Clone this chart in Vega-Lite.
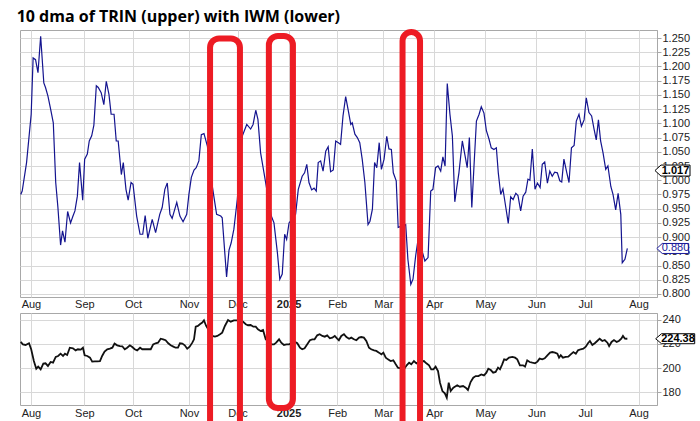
{
  "$schema": "https://vega.github.io/schema/vega-lite/v6.json",
  "padding": {"left": 16, "top": 9, "right": 0, "bottom": 0},
  "background": "white",
  "title": {"text": "10 dma of TRIN (upper) with IWM (lower)", "anchor": "start", "font": "Open Sans", "fontSize": 16, "fontWeight": "bold", "color": "#000", "offset": 3},
  "bounds": "flush",
  "spacing": 16,
  "config": {
    "view": {"stroke": "#a8a8a8"},
    "axis": {"labelFont": "Liberation Sans", "labelFontSize": 11, "labelColor": "#222", "gridColor": "#d8d8d8", "gridWidth": 1, "domain": false, "tickColor": "#a8a8a8", "title": null}
  },
  "datasets": {
    "trin": [
      {"d":-4.2,"v":0.975},{"d":-3.6,"v":0.981},{"d":-1.8,"v":1.031},{"d":0.1,"v":1.116},{"d":0.9,"v":1.215},{"d":1.9,"v":1.212},{"d":2.9,"v":1.189},{"d":4.0,"v":1.253},{"d":5.3,"v":1.171},{"d":6.0,"v":1.163},{"d":7.0,"v":1.148},{"d":8.1,"v":1.125},{"d":9.2,"v":1.101},{"d":10.2,"v":0.996},{"d":11.1,"v":0.952},{"d":12.2,"v":0.886},{"d":13.0,"v":0.911},{"d":14.0,"v":0.891},{"d":15.1,"v":0.945},{"d":16.3,"v":0.925},{"d":17.3,"v":0.937},{"d":18.1,"v":0.946},{"d":19.1,"v":0.972},{"d":20.0,"v":1.031},{"d":21.3,"v":0.965},{"d":22.1,"v":1.037},{"d":23.2,"v":1.046},{"d":24.0,"v":1.069},{"d":25.0,"v":1.078},{"d":25.9,"v":1.097},{"d":26.9,"v":1.166},{"d":27.7,"v":1.163},{"d":28.9,"v":1.154},{"d":30.0,"v":1.133},{"d":31.0,"v":1.174},{"d":32.1,"v":1.151},{"d":33.0,"v":1.116},{"d":34.2,"v":1.116},{"d":35.1,"v":1.069},{"d":35.9,"v":1.069},{"d":37.2,"v":1.010},{"d":38.0,"v":1.031},{"d":39.1,"v":0.984},{"d":40.0,"v":0.965},{"d":41.2,"v":0.996},{"d":42.0,"v":0.993},{"d":43.5,"v":0.937},{"d":44.9,"v":0.905},{"d":46.0,"v":0.905},{"d":47.0,"v":0.938},{"d":48.1,"v":0.898},{"d":49.9,"v":0.931},{"d":51.3,"v":0.908},{"d":53.0,"v":0.940},{"d":54.0,"v":0.952},{"d":55.1,"v":0.984},{"d":56.1,"v":0.995},{"d":57.2,"v":0.940},{"d":58.1,"v":0.933},{"d":60.0,"v":0.961},{"d":61.3,"v":0.937},{"d":62.6,"v":0.927},{"d":64.1,"v":0.940},{"d":65.0,"v":0.975},{"d":66.0,"v":1.005},{"d":67.1,"v":1.018},{"d":68.0,"v":1.022},{"d":69.1,"v":1.034},{"d":70.1,"v":1.080},{"d":71.2,"v":1.082},{"d":72.6,"v":1.060},{"d":74.6,"v":0.990},{"d":76.4,"v":0.940},{"d":78.1,"v":0.937},{"d":78.7,"v":0.934},{"d":80.5,"v":0.830},{"d":81.5,"v":0.877},{"d":82.4,"v":0.890},{"d":83.5,"v":0.914},{"d":84.9,"v":0.966},{"d":87.0,"v":1.078},{"d":88.8,"v":1.098},{"d":90.4,"v":1.090},{"d":91.4,"v":1.098},{"d":92.5,"v":1.123},{"d":93.4,"v":1.107},{"d":94.5,"v":1.048},{"d":95.9,"v":1.013},{"d":96.8,"v":0.990},{"d":98.9,"v":0.937},{"d":100.0,"v":0.925},{"d":101.4,"v":0.873},{"d":102.4,"v":0.826},{"d":103.4,"v":0.835},{"d":104.4,"v":0.905},{"d":105.2,"v":0.896},{"d":106.2,"v":0.925},{"d":108.9,"v":0.940},{"d":110.0,"v":0.984},{"d":111.6,"v":1.007},{"d":112.6,"v":1.013},{"d":113.5,"v":1.028},{"d":114.4,"v":0.996},{"d":115.5,"v":0.983},{"d":116.5,"v":0.986},{"d":117.4,"v":0.981},{"d":118.2,"v":1.031},{"d":119.2,"v":1.034},{"d":120.2,"v":1.016},{"d":121.3,"v":1.051},{"d":122.3,"v":1.059},{"d":123.3,"v":1.015},{"d":124.4,"v":1.018},{"d":125.4,"v":1.069},{"d":126.5,"v":1.066},{"d":127.4,"v":1.063},{"d":128.4,"v":1.113},{"d":129.5,"v":1.147},{"d":130.6,"v":1.122},{"d":131.6,"v":1.098},{"d":132.2,"v":1.101},{"d":133.3,"v":1.081},{"d":134.3,"v":1.075},{"d":135.3,"v":1.066},{"d":136.3,"v":1.037},{"d":137.4,"v":0.996},{"d":138.7,"v":0.922},{"d":139.5,"v":0.928},{"d":140.5,"v":0.949},{"d":141.4,"v":1.031},{"d":142.3,"v":1.022},{"d":143.3,"v":1.066},{"d":144.2,"v":1.019},{"d":145.3,"v":1.037},{"d":146.4,"v":1.077},{"d":147.3,"v":1.055},{"d":148.3,"v":1.054},{"d":149.1,"v":1.013},{"d":150.3,"v":0.999},{"d":151.1,"v":0.917},{"d":154.2,"v":0.922},{"d":155.1,"v":0.861},{"d":156.3,"v":0.817},{"d":157.2,"v":0.826},{"d":158.3,"v":0.867},{"d":159.4,"v":0.899},{"d":162.1,"v":0.858},{"d":163.4,"v":0.864},{"d":164.5,"v":0.981},{"d":165.4,"v":0.984},{"d":166.5,"v":1.022},{"d":167.5,"v":1.025},{"d":168.6,"v":1.016},{"d":169.5,"v":1.041},{"d":170.4,"v":1.025},{"d":171.3,"v":1.170},{"d":172.4,"v":1.116},{"d":173.4,"v":1.078},{"d":174.4,"v":0.962},{"d":175.2,"v":0.987},{"d":176.1,"v":1.013},{"d":177.5,"v":1.069},{"d":178.5,"v":1.046},{"d":179.5,"v":1.022},{"d":180.4,"v":1.075},{"d":181.4,"v":0.952},{"d":182.3,"v":1.025},{"d":183.3,"v":1.104},{"d":184.4,"v":1.116},{"d":185.3,"v":1.129},{"d":186.4,"v":1.118},{"d":187.4,"v":1.087},{"d":188.5,"v":1.072},{"d":189.4,"v":1.057},{"d":190.5,"v":1.054},{"d":191.5,"v":1.057},{"d":192.3,"v":1.013},{"d":193.3,"v":0.975},{"d":194.2,"v":0.985},{"d":195.4,"v":0.952},{"d":196.4,"v":0.924},{"d":197.4,"v":0.971},{"d":198.4,"v":0.966},{"d":199.5,"v":0.977},{"d":200.4,"v":0.973},{"d":201.5,"v":0.946},{"d":202.5,"v":0.972},{"d":203.6,"v":0.979},{"d":204.5,"v":1.002},{"d":205.3,"v":1.000},{"d":206.3,"v":1.055},{"d":207.4,"v":0.984},{"d":208.4,"v":0.995},{"d":209.5,"v":0.987},{"d":210.4,"v":1.028},{"d":211.4,"v":1.032},{"d":212.5,"v":0.995},{"d":213.5,"v":1.016},{"d":214.5,"v":1.007},{"d":215.5,"v":1.014},{"d":216.6,"v":1.013},{"d":217.6,"v":0.999},{"d":218.4,"v":0.997},{"d":219.3,"v":1.037},{"d":220.5,"v":1.013},{"d":221.4,"v":0.996},{"d":222.4,"v":1.057},{"d":223.5,"v":1.061},{"d":224.4,"v":1.104},{"d":225.5,"v":1.116},{"d":226.5,"v":1.095},{"d":227.6,"v":1.106},{"d":228.5,"v":1.145},{"d":229.6,"v":1.119},{"d":230.7,"v":1.113},{"d":231.7,"v":1.090},{"d":232.6,"v":1.071},{"d":233.5,"v":1.106},{"d":234.4,"v":1.069},{"d":235.4,"v":1.048},{"d":236.5,"v":1.019},{"d":237.4,"v":1.025},{"d":238.6,"v":0.989},{"d":239.5,"v":0.975},{"d":240.6,"v":0.948},{"d":241.6,"v":0.977},{"d":242.7,"v":0.940},{"d":243.3,"v":0.855},{"d":244.4,"v":0.861},{"d":245.4,"v":0.880}
    ],
    "iwm": [
      {"d":-4.2,"v":221.7},{"d":-3.3,"v":219.7},{"d":-2.2,"v":219.2},{"d":-0.8,"v":220.6},{"d":0.1,"v":215.6},{"d":1.2,"v":205.8},{"d":2.2,"v":199.4},{"d":3.0,"v":201.1},{"d":4.0,"v":198.9},{"d":5.1,"v":203.6},{"d":6.0,"v":203.9},{"d":7.0,"v":201.7},{"d":8.1,"v":205.0},{"d":9.1,"v":204.4},{"d":10.2,"v":209.2},{"d":11.2,"v":210.0},{"d":12.2,"v":211.9},{"d":13.2,"v":210.0},{"d":14.0,"v":211.9},{"d":14.9,"v":210.8},{"d":16.0,"v":216.9},{"d":17.3,"v":216.4},{"d":18.4,"v":214.7},{"d":19.3,"v":215.6},{"d":20.5,"v":215.3},{"d":21.4,"v":216.9},{"d":22.1,"v":210.6},{"d":23.2,"v":210.0},{"d":24.3,"v":208.6},{"d":25.2,"v":205.3},{"d":26.3,"v":205.6},{"d":27.3,"v":205.6},{"d":28.4,"v":205.8},{"d":29.3,"v":210.0},{"d":30.3,"v":213.6},{"d":31.4,"v":215.6},{"d":32.5,"v":216.1},{"d":33.5,"v":216.9},{"d":34.4,"v":220.3},{"d":35.5,"v":218.9},{"d":36.6,"v":218.3},{"d":37.6,"v":218.1},{"d":38.6,"v":215.6},{"d":39.6,"v":216.9},{"d":40.7,"v":218.9},{"d":41.7,"v":217.5},{"d":42.7,"v":215.6},{"d":43.7,"v":214.7},{"d":44.9,"v":216.9},{"d":45.8,"v":215.6},{"d":46.9,"v":215.6},{"d":47.9,"v":215.6},{"d":49.3,"v":215.6},{"d":50.3,"v":219.7},{"d":51.3,"v":220.6},{"d":52.3,"v":221.1},{"d":53.4,"v":224.4},{"d":54.4,"v":223.9},{"d":55.4,"v":223.1},{"d":56.5,"v":220.6},{"d":57.5,"v":218.9},{"d":58.6,"v":217.8},{"d":59.5,"v":216.9},{"d":60.5,"v":216.9},{"d":61.3,"v":220.6},{"d":62.3,"v":220.3},{"d":63.3,"v":218.9},{"d":64.3,"v":216.1},{"d":65.3,"v":217.8},{"d":66.4,"v":221.1},{"d":67.1,"v":223.9},{"d":67.8,"v":234.4},{"d":68.7,"v":235.0},{"d":69.5,"v":236.4},{"d":70.5,"v":237.8},{"d":71.2,"v":239.7},{"d":72.1,"v":235.0},{"d":74.6,"v":226.7},{"d":75.7,"v":226.1},{"d":76.7,"v":226.7},{"d":77.8,"v":228.1},{"d":78.7,"v":229.4},{"d":79.8,"v":235.0},{"d":81.1,"v":240.0},{"d":82.2,"v":238.6},{"d":83.5,"v":239.7},{"d":84.9,"v":239.7},{"d":86.3,"v":239.2},{"d":87.2,"v":238.6},{"d":88.4,"v":236.4},{"d":89.3,"v":235.6},{"d":90.4,"v":235.8},{"d":91.5,"v":234.4},{"d":92.5,"v":234.4},{"d":93.4,"v":232.2},{"d":94.5,"v":230.8},{"d":95.5,"v":231.7},{"d":96.6,"v":223.9},{"d":98.9,"v":219.7},{"d":100.0,"v":219.7},{"d":100.9,"v":221.1},{"d":102.1,"v":223.9},{"d":103.0,"v":221.1},{"d":104.1,"v":219.2},{"d":105.2,"v":219.7},{"d":106.2,"v":219.7},{"d":108.5,"v":221.9},{"d":109.6,"v":220.6},{"d":110.7,"v":216.9},{"d":111.6,"v":215.6},{"d":112.6,"v":216.4},{"d":113.7,"v":219.7},{"d":114.8,"v":223.1},{"d":115.8,"v":223.9},{"d":116.7,"v":223.9},{"d":117.8,"v":227.2},{"d":118.8,"v":228.1},{"d":119.9,"v":226.7},{"d":120.9,"v":226.1},{"d":121.9,"v":227.2},{"d":123.0,"v":224.7},{"d":124.0,"v":225.3},{"d":125.0,"v":226.7},{"d":126.0,"v":224.4},{"d":126.7,"v":223.1},{"d":127.7,"v":226.7},{"d":128.8,"v":228.1},{"d":129.8,"v":225.8},{"d":130.9,"v":224.4},{"d":131.8,"v":225.3},{"d":132.9,"v":223.9},{"d":133.9,"v":223.1},{"d":135.0,"v":225.3},{"d":135.9,"v":225.8},{"d":137.0,"v":225.3},{"d":138.0,"v":222.5},{"d":139.1,"v":216.9},{"d":140.0,"v":215.6},{"d":141.2,"v":214.7},{"d":142.1,"v":214.2},{"d":143.2,"v":212.8},{"d":144.2,"v":211.4},{"d":145.0,"v":212.8},{"d":146.0,"v":208.6},{"d":146.9,"v":207.2},{"d":148.0,"v":205.8},{"d":149.1,"v":206.4},{"d":150.1,"v":203.1},{"d":151.0,"v":200.3},{"d":153.5,"v":198.9},{"d":154.6,"v":202.2},{"d":155.6,"v":204.4},{"d":156.5,"v":203.1},{"d":157.6,"v":205.8},{"d":158.6,"v":203.9},{"d":159.4,"v":205.0},{"d":161.7,"v":205.8},{"d":162.7,"v":203.9},{"d":163.8,"v":202.2},{"d":164.7,"v":198.9},{"d":165.6,"v":198.9},{"d":166.5,"v":201.1},{"d":167.5,"v":197.5},{"d":168.3,"v":187.8},{"d":169.3,"v":180.8},{"d":170.3,"v":178.9},{"d":171.1,"v":175.3},{"d":171.9,"v":187.8},{"d":172.7,"v":180.8},{"d":173.8,"v":183.6},{"d":175.4,"v":185.6},{"d":176.5,"v":184.4},{"d":177.8,"v":185.0},{"d":178.9,"v":183.6},{"d":179.8,"v":181.7},{"d":180.9,"v":188.3},{"d":182.0,"v":191.9},{"d":183.0,"v":193.3},{"d":184.1,"v":193.3},{"d":185.3,"v":194.7},{"d":186.4,"v":193.9},{"d":187.4,"v":196.1},{"d":188.2,"v":199.4},{"d":189.2,"v":198.3},{"d":190.2,"v":196.1},{"d":191.2,"v":196.7},{"d":192.2,"v":200.3},{"d":193.0,"v":198.9},{"d":193.9,"v":203.1},{"d":194.7,"v":207.2},{"d":195.6,"v":206.7},{"d":196.7,"v":208.6},{"d":198.1,"v":209.2},{"d":199.2,"v":208.6},{"d":200.1,"v":207.2},{"d":201.2,"v":202.2},{"d":202.5,"v":202.2},{"d":203.3,"v":201.1},{"d":204.2,"v":206.4},{"d":205.2,"v":205.0},{"d":206.3,"v":204.4},{"d":207.4,"v":203.9},{"d":208.4,"v":205.3},{"d":209.3,"v":207.8},{"d":210.4,"v":207.2},{"d":211.4,"v":208.1},{"d":212.5,"v":210.6},{"d":213.6,"v":212.8},{"d":214.5,"v":213.3},{"d":215.6,"v":212.8},{"d":216.6,"v":211.9},{"d":217.3,"v":208.6},{"d":218.0,"v":210.6},{"d":218.9,"v":208.6},{"d":220.0,"v":209.2},{"d":221.1,"v":209.4},{"d":222.1,"v":211.4},{"d":223.2,"v":213.3},{"d":224.2,"v":211.9},{"d":225.1,"v":214.7},{"d":226.2,"v":215.6},{"d":227.3,"v":216.1},{"d":228.3,"v":217.8},{"d":229.2,"v":220.6},{"d":230.0,"v":222.5},{"d":231.0,"v":219.2},{"d":232.0,"v":220.6},{"d":233.0,"v":222.5},{"d":234.0,"v":224.4},{"d":235.1,"v":222.5},{"d":236.1,"v":223.3},{"d":237.2,"v":221.1},{"d":237.9,"v":218.3},{"d":238.9,"v":221.7},{"d":239.9,"v":223.3},{"d":241.0,"v":221.7},{"d":241.9,"v":222.5},{"d":242.9,"v":224.4},{"d":243.6,"v":226.7},{"d":244.4,"v":224.4},{"d":245.4,"v":224.38}
    ],
    "marks": [
      {"start":73.7,"end":86.0,"top":474.4,"bottom":147.6},
      {"start":97.9,"end":107.8,"top":476.5,"bottom":166.7},
      {"start":152.9,"end":160.1,"top":479.8,"bottom":147.6}
    ]
  },
  "vconcat": [
    {
      "width": 637,
      "height": 267,
      "layer": [
        {
          "data": {"name": "trin"},
          "mark": {"type": "line", "color": "#14148f", "strokeWidth": 1.2},
          "encoding": {
            "x": {"field": "d", "type": "quantitative", "scale": {"domain": [-4.5, 257.6], "nice": false, "zero": false},
              "axis": {"values": [0,22,42,65,85,106,126,145,166,187,208,228,250], "tickCount": 100, "ticks": false, "labelPadding": 1, "grid": true, "labelFlush": false, "labelOverlap": false,
                "labelExpr": "datum.value==0?'Aug':datum.value==22?'Sep':datum.value==42?'Oct':datum.value==65?'Nov':datum.value==85?'Dec':datum.value==106?'2025':datum.value==126?'Feb':datum.value==145?'Mar':datum.value==166?'Apr':datum.value==187?'May':datum.value==208?'Jun':datum.value==228?'Jul':'Aug'",
                "labelFontWeight": {"condition": {"test": "datum.value == 106", "value": "bold"}, "value": "normal"}}},
            "y": {"field": "v", "type": "quantitative", "scale": {"domain": [0.7947, 1.2641], "nice": false, "zero": false},
              "axis": {"orient": "right", "values": [0.8,0.825,0.85,0.875,0.9,0.925,0.95,0.975,1.0,1.025,1.05,1.075,1.1,1.125,1.15,1.175,1.2,1.225,1.25], "tickCount": 100, "format": ".3f", "tickSize": 4, "labelPadding": 1, "domain": true, "domainColor": "#a8a8a8", "grid": true, "labelOverlap": false, "labelBound": false}}
          }
        },
        {
          "data": {"values": [{"label": "1.017", "v": 1.017}]},
          "mark": {"type": "point", "shape": "M -3.64 0 L -2.55 -1 L 2.73 -1 L 2.73 1 L -2.55 1 Z", "size": 121, "filled": true, "fill": "white", "stroke": "#000", "strokeWidth": 1, "opacity": 1, "xOffset": 18},
          "encoding": {"x": {"value": "width"}, "y": {"field": "v", "type": "quantitative"}}
        },
        {
          "data": {"values": [{"label": "1.017", "v": 1.017}]},
          "mark": {"type": "text", "font": "Liberation Sans", "fontSize": 11, "fontWeight": "bold", "color": "#000", "xOffset": 18.5, "align": "center", "baseline": "middle"},
          "encoding": {"x": {"value": "width"}, "y": {"field": "v", "type": "quantitative"}, "text": {"field": "label"}}
        },
        {
          "data": {"values": [{"label": "0.880", "v": 0.880}]},
          "mark": {"type": "point", "shape": "M -3.64 0 L -2.55 -1 L 2.73 -1 L 2.73 1 L -2.55 1 Z", "size": 100, "filled": true, "fill": "white", "stroke": "#1a1a9a", "strokeWidth": 1, "opacity": 1, "xOffset": 18},
          "encoding": {"x": {"value": "width"}, "y": {"field": "v", "type": "quantitative"}}
        },
        {
          "data": {"values": [{"label": "0.880", "v": 0.880}]},
          "mark": {"type": "text", "font": "Liberation Sans", "fontSize": 11, "color": "#1a1a9a", "xOffset": 18.5, "align": "center", "baseline": "middle"},
          "encoding": {"x": {"value": "width"}, "y": {"field": "v", "type": "quantitative"}, "text": {"field": "label"}}
        }
      ]
    },
    {
      "width": 637,
      "height": 92,
      "layer": [
        {
          "data": {"name": "iwm"},
          "mark": {"type": "line", "color": "#111", "strokeWidth": 1.8},
          "encoding": {
            "x": {"field": "d", "type": "quantitative", "scale": {"domain": [-4.5, 257.6], "nice": false, "zero": false},
              "axis": {"values": [0,22,42,65,85,106,126,145,166,187,208,228,250], "tickCount": 100, "ticks": false, "labelPadding": 2, "grid": true, "labelFlush": false, "labelOverlap": false,
                "labelExpr": "datum.value==0?'Aug':datum.value==22?'Sep':datum.value==42?'Oct':datum.value==65?'Nov':datum.value==85?'Dec':datum.value==106?'2025':datum.value==126?'Feb':datum.value==145?'Mar':datum.value==166?'Apr':datum.value==187?'May':datum.value==208?'Jun':datum.value==228?'Jul':'Aug'",
                "labelFontWeight": {"condition": {"test": "datum.value == 106", "value": "bold"}, "value": "normal"}}},
            "y": {"field": "v", "type": "quantitative", "scale": {"domain": [169.2, 245.8], "nice": false, "zero": false},
              "axis": {"orient": "right", "values": [180, 200, 220, 240], "tickCount": 100, "tickSize": 4, "labelPadding": 1, "domain": true, "domainColor": "#a8a8a8", "grid": true, "labelOverlap": false}}
          }
        },
        {
          "data": {"values": [{"label": "224.38", "v": 224.38}]},
          "mark": {"type": "point", "shape": "M -4.46 0 L -3.3 -1 L 3.34 -1 L 3.34 1 L -3.3 1 Z", "size": 100, "filled": true, "fill": "white", "stroke": "#000", "strokeWidth": 1, "opacity": 1, "xOffset": 21},
          "encoding": {"x": {"value": "width"}, "y": {"field": "v", "type": "quantitative"}}
        },
        {
          "data": {"values": [{"label": "224.38", "v": 224.38}]},
          "mark": {"type": "text", "font": "Liberation Sans", "fontSize": 11, "fontWeight": "bold", "color": "#000", "xOffset": 21, "align": "center", "baseline": "middle"},
          "encoding": {"x": {"value": "width"}, "y": {"field": "v", "type": "quantitative"}, "text": {"field": "label"}}
        },
        {
          "data": {"name": "marks"},
          "mark": {"type": "rect", "stroke": "#ed1c24", "strokeWidth": 6, "fill": "white", "fillOpacity": 0, "cornerRadius": 9, "clip": false},
          "encoding": {
            "x": {"field": "start", "type": "quantitative", "scale": {"domain": [-4.5, 257.6], "nice": false, "zero": false}},
            "x2": {"field": "end"},
            "y": {"field": "top", "type": "quantitative", "scale": {"domain": [169.2, 245.8], "nice": false, "zero": false}},
            "y2": {"field": "bottom"}
          }
        }
      ]
    }
  ]
}
